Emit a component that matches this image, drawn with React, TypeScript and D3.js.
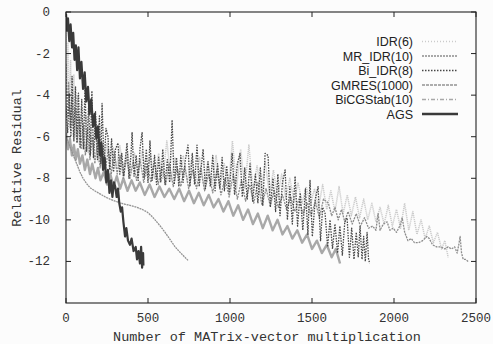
import React, { useRef, useEffect } from "react";
import * as d3 from "d3";

type Pt = [number, number];

// x-axis ticks, y-axis ticks
const xTicks = [0, 500, 1000, 1500, 2000, 2500];
const yTicks = [0, -2, -4, -6, -8, -10, -12];
const yTickLabels = ["0", "-2", "-4", "-6", "-8", "-10", "-12"];

const seriesNames = ["IDR(6)", "MR_IDR(10)", "Bi_IDR(8)", "GMRES(1000)", "BiCGStab(10)", "AGS"];

// values: [matvec count, log10 residual]
const idr6: Pt[] = [
  [0, -0.8], [6, -4.0], [12, -1.5], [20, -5.0], [28, -2.3], [38, -5.5], [48, -3.0], [58, -6.0], [70, -4.0], [82, -6.4],
  [95, -4.6], [108, -6.6], [122, -5.0], [136, -6.8], [150, -5.5], [166, -7.0], [182, -5.9], [198, -7.2], [215, -6.1], [232, -7.3],
  [250, -6.3], [268, -7.4], [288, -6.5], [308, -7.5], [328, -6.4], [350, -7.6], [372, -6.6], [395, -7.7], [418, -6.8], [440, -7.8],
  [465, -6.7], [490, -7.9], [515, -6.9], [540, -8.0], [565, -6.8], [590, -8.0], [615, -6.2], [640, -8.1], [665, -7.0], [690, -8.1],
  [715, -6.9], [740, -8.2], [765, -7.1], [790, -8.2], [815, -7.0], [840, -8.3], [865, -7.2], [890, -8.3], [915, -6.9], [940, -8.4],
  [965, -7.3], [990, -8.4], [1015, -6.2], [1040, -8.5], [1065, -6.6], [1090, -8.5], [1115, -6.4], [1140, -8.6], [1165, -7.4], [1190, -8.7],
  [1215, -7.2], [1240, -8.8], [1265, -7.6], [1290, -8.9], [1315, -7.8], [1340, -9.0], [1365, -8.0], [1390, -9.1], [1415, -8.2], [1440, -9.2],
  [1465, -8.4], [1490, -9.3], [1515, -8.5], [1540, -9.4], [1565, -8.3], [1590, -9.5], [1615, -8.6], [1640, -9.6], [1665, -8.4], [1690, -9.7],
  [1715, -8.8], [1740, -9.8], [1765, -8.9], [1790, -9.9], [1815, -9.0], [1840, -10.0], [1865, -9.2], [1890, -10.1], [1915, -9.4], [1940, -10.2],
  [1965, -9.3], [1990, -10.3], [2015, -9.5], [2040, -10.4], [2065, -9.2], [2090, -10.5], [2115, -9.6], [2140, -10.7], [2165, -10.0], [2190, -10.9],
  [2215, -10.3], [2240, -11.1], [2265, -10.6], [2290, -11.4], [2310, -11.0], [2330, -11.8],
];

const mrIdr10: Pt[] = [
  [0, -2.5], [8, -5.0], [16, -3.4], [26, -5.6], [36, -4.1], [46, -6.0], [56, -4.6], [68, -6.3], [80, -5.0], [92, -6.6],
  [104, -5.4], [118, -6.9], [132, -5.6], [146, -7.1], [160, -6.0], [176, -7.3], [192, -6.2], [208, -7.5], [224, -6.4], [240, -7.6],
  [258, -6.6], [276, -7.8], [294, -6.7], [312, -7.8], [330, -6.9], [350, -8.0], [370, -7.0], [390, -8.0], [410, -7.2], [430, -8.1],
  [452, -7.1], [474, -8.2], [496, -7.3], [518, -8.2], [540, -7.2], [562, -8.3], [585, -7.4], [608, -8.3], [630, -7.3], [654, -8.4],
  [678, -7.5], [700, -8.4], [724, -7.4], [748, -8.5], [772, -7.6], [796, -8.5], [820, -7.5], [845, -8.6], [870, -7.8], [895, -8.7],
  [920, -7.6], [945, -8.8], [970, -8.0], [995, -8.9], [1020, -7.8], [1045, -9.0], [1070, -8.1], [1095, -9.1], [1120, -8.3], [1145, -9.2],
  [1170, -8.2], [1195, -9.3], [1220, -8.5], [1245, -9.3], [1270, -8.6], [1295, -9.4], [1320, -8.8], [1345, -9.5], [1370, -8.9], [1395, -9.6],
  [1420, -9.0], [1445, -9.7], [1470, -9.2], [1495, -9.8], [1520, -9.1], [1545, -9.9], [1570, -9.0], [1600, -9.2], [1620, -9.8], [1640, -9.4],
  [1660, -10.0], [1680, -9.5], [1700, -10.1], [1720, -9.6], [1745, -10.2], [1770, -9.7], [1795, -10.3], [1820, -9.9], [1845, -10.4], [1870, -10.3],
  [1890, -10.5], [1903, -9.7], [1915, -10.5], [1935, -10.2], [1958, -10.1], [1975, -10.5], [1995, -10.4], [2015, -10.6], [2035, -10.3], [2050, -9.9],
  [2065, -10.6], [2085, -11.0], [2105, -10.9], [2125, -11.1], [2150, -11.1], [2175, -11.0], [2200, -10.8], [2215, -10.9], [2235, -11.2], [2260, -11.3],
  [2285, -11.3], [2310, -11.4], [2330, -11.3], [2350, -11.4], [2370, -11.3], [2385, -11.6], [2395, -11.2], [2403, -10.8], [2412, -11.6], [2422, -11.9],
  [2435, -11.9], [2452, -12.0],
];

const biIdr8: Pt[] = [
  [0, -4.5], [10, -5.8], [20, -3.9], [30, -6.0], [37, -3.1], [48, -6.2], [58, -3.6], [67, -6.3], [76, -3.9], [86, -6.5],
  [96, -4.2], [106, -6.6], [116, -3.6], [126, -6.7], [138, -4.5], [148, -6.9], [158, -3.8], [168, -7.0], [180, -4.8], [192, -7.1],
  [204, -5.0], [212, -7.3], [220, -4.4], [232, -7.4], [244, -5.6], [256, -6.0], [266, -7.6], [278, -6.1], [290, -7.7], [302, -6.6],
  [317, -6.3], [328, -7.8], [340, -6.8], [352, -7.9], [372, -6.3], [384, -8.0], [396, -6.9], [403, -5.8], [415, -7.9], [428, -6.9],
  [440, -8.1], [452, -6.5], [464, -5.8], [476, -8.0], [490, -6.6], [500, -8.2], [512, -6.2], [525, -8.1], [540, -6.9], [552, -8.3],
  [565, -7.0], [578, -8.2], [590, -6.6], [604, -8.3], [618, -7.1], [632, -8.2], [647, -5.2], [660, -8.3], [674, -7.0], [688, -8.4],
  [700, -6.9], [714, -8.2], [728, -7.1], [744, -6.4], [756, -8.4], [770, -6.8], [784, -8.3], [799, -6.4], [812, -8.4], [836, -6.6],
  [850, -8.5], [866, -7.2], [880, -8.4], [895, -6.9], [909, -8.6], [924, -7.3], [938, -8.5], [952, -7.0], [966, -8.6], [980, -7.4],
  [995, -8.7], [1013, -6.8], [1028, -8.8], [1045, -7.3], [1061, -6.8], [1075, -8.9], [1090, -7.5], [1105, -9.0], [1122, -7.3], [1138, -9.1],
  [1155, -7.8], [1170, -9.2], [1185, -7.5], [1200, -9.3], [1214, -6.8], [1232, -6.9], [1246, -9.4], [1262, -8.0], [1278, -9.6], [1292, -7.8],
  [1305, -9.8], [1320, -8.2], [1336, -7.6], [1350, -10.0], [1365, -8.4], [1380, -10.2], [1397, -7.9], [1412, -10.3], [1428, -8.7], [1444, -10.5],
  [1460, -8.5], [1475, -10.7], [1488, -8.1], [1502, -10.8], [1520, -9.0], [1537, -8.4], [1552, -11.0], [1565, -9.4], [1580, -9.7], [1595, -11.3],
  [1610, -10.0], [1625, -11.4], [1640, -10.2], [1656, -11.6], [1670, -10.3], [1685, -11.7], [1700, -10.1], [1714, -9.9], [1728, -11.8], [1742, -10.4],
  [1756, -11.9], [1770, -10.6], [1782, -11.8], [1793, -10.3], [1805, -11.9], [1815, -10.8], [1825, -12.0], [1836, -10.6], [1845, -11.9], [1852, -12.1],
];

const gmres1000: Pt[] = [
  [0, -6.0], [10, -6.2], [25, -6.5], [40, -6.8], [55, -7.1], [70, -7.4], [85, -7.7], [104, -8.0], [125, -8.25], [146, -8.45],
  [175, -8.6], [207, -8.75], [240, -8.9], [268, -9.0], [300, -9.1], [329, -9.18], [360, -9.25], [390, -9.3], [433, -9.4], [465, -9.5],
  [494, -9.62], [520, -9.8], [543, -10.0], [575, -10.3], [604, -10.6], [635, -10.95], [665, -11.3], [700, -11.6], [744, -11.95],
];

const bicgstab10: Pt[] = [
  [0, -5.8], [12, -6.6], [24, -6.1], [36, -6.9], [48, -6.4], [60, -7.1], [72, -6.6], [85, -7.3], [100, -6.9], [115, -7.6],
  [130, -7.1], [146, -7.8], [160, -7.3], [180, -8.0], [195, -7.5], [210, -8.1], [230, -7.7], [250, -8.3], [270, -7.8], [290, -8.4],
  [310, -7.9], [330, -8.5], [350, -8.0], [375, -8.6], [400, -8.1], [425, -8.6], [450, -8.2], [480, -8.8], [510, -8.3], [540, -8.9],
  [570, -8.4], [600, -8.9], [630, -8.5], [660, -9.0], [690, -8.5], [720, -9.1], [750, -8.6], [780, -9.2], [810, -8.7], [840, -9.3],
  [870, -8.8], [900, -9.4], [930, -9.0], [960, -9.6], [990, -9.1], [1020, -9.8], [1050, -9.3], [1080, -10.0], [1110, -9.5], [1140, -10.2],
  [1170, -9.7], [1200, -10.4], [1230, -9.8], [1260, -10.5], [1290, -10.0], [1320, -10.7], [1350, -10.3], [1380, -10.9], [1410, -10.5], [1440, -11.1],
  [1470, -10.7], [1500, -11.4], [1530, -11.0], [1560, -11.6], [1590, -11.2], [1620, -11.8], [1645, -11.4], [1671, -12.1],
];

const ags: Pt[] = [
  [0, -0.1], [6, -0.9], [12, -0.3], [20, -1.4], [28, -0.6], [37, -1.7], [44, -1.0], [52, -2.3], [60, -1.6], [68, -2.8],
  [76, -1.7], [85, -3.2], [94, -2.4], [104, -3.7], [114, -2.9], [124, -4.3], [134, -3.6], [144, -4.9], [154, -4.2], [165, -5.5],
  [175, -4.9], [185, -6.1], [195, -5.5], [207, -6.9], [216, -6.3], [226, -7.6], [236, -7.0], [246, -8.2], [256, -7.6], [265, -8.7],
  [274, -8.1], [283, -8.9], [292, -8.2], [300, -8.4], [309, -8.9], [317, -8.5], [325, -9.2], [334, -9.6], [342, -9.4], [350, -10.1],
  [360, -10.8], [368, -10.4], [378, -11.0], [390, -11.2], [400, -10.9], [412, -11.5], [425, -11.3], [433, -11.9], [442, -11.5], [451, -12.1],
  [458, -11.3], [464, -12.3], [470, -11.6], [472, -12.2],
];

const styles = [
  { data: idr6, stroke: "#cbcbcb", width: 1.5, dash: "1.2,0.8", legendDash: "1,2" },
  { data: mrIdr10, stroke: "#8c8c8c", width: 1.3, dash: "2,1", legendDash: "2,1" },
  { data: biIdr8, stroke: "#464646", width: 1.3, dash: "1.5,1.2", legendDash: "1.5,1.5" },
  { data: gmres1000, stroke: "#929292", width: 1.3, dash: "2,0.7", legendDash: "3,1" },
  { data: bicgstab10, stroke: "#a8a8a8", width: 2.4, dash: "", legendDash: "4,2,1,2" },
  { data: ags, stroke: "#3a3a3a", width: 2.2, dash: "", legendDash: "" },
];
// drawing order (back to front)
const drawOrder = [0, 4, 1, 2, 3, 5];

export default function App() {
  const svgRef = useRef<SVGSVGElement>(null);

  useEffect(() => {
    const svg = d3.select(svgRef.current);
    svg.selectAll("*").remove();

    const left = 66, right = 476, top = 12, bottom = 303;
    const x = d3.scaleLinear().domain([0, 2500]).range([left, right]);
    const y = d3.scaleLinear().domain([-14, 0]).range([bottom, top]);

    svg.append("defs").append("clipPath").attr("id", "plotclip")
      .append("rect").attr("x", left).attr("y", top).attr("width", right - left).attr("height", bottom - top);

    const line = d3.line<Pt>().x(d => x(d[0])).y(d => y(d[1]));

    const g = svg.append("g").attr("clip-path", "url(#plotclip)");
    drawOrder.forEach(i => {
      const s = styles[i];
      g.append("path")
        .attr("d", line(s.data))
        .attr("fill", "none")
        .attr("stroke", s.stroke)
        .attr("stroke-width", s.width)
        .attr("stroke-dasharray", s.dash || null)
        .attr("stroke-linejoin", "round");
    });

    // frame
    svg.append("rect")
      .attr("x", left).attr("y", top).attr("width", right - left).attr("height", bottom - top)
      .attr("fill", "none").attr("stroke", "#222").attr("stroke-width", 1.1);

    // ticks (inward, mirrored)
    const tk = 5;
    xTicks.forEach(v => {
      svg.append("line").attr("x1", x(v)).attr("x2", x(v)).attr("y1", bottom).attr("y2", bottom - tk).attr("stroke", "#222");
      svg.append("line").attr("x1", x(v)).attr("x2", x(v)).attr("y1", top).attr("y2", top + tk).attr("stroke", "#222");
      svg.append("text")
        .attr("x", x(v)).attr("y", 322)
        .attr("text-anchor", "middle")
        .attr("font-family", "Liberation Mono, monospace")
        .attr("font-size", 12.5).attr("fill", "#333")
        .text(v);
    });
    yTicks.forEach((v, i) => {
      svg.append("line").attr("x1", left).attr("x2", left + tk).attr("y1", y(v)).attr("y2", y(v)).attr("stroke", "#222");
      svg.append("line").attr("x1", right).attr("x2", right - tk).attr("y1", y(v)).attr("y2", y(v)).attr("stroke", "#222");
      svg.append("text")
        .attr("x", 50).attr("y", y(v) + 4)
        .attr("text-anchor", "end")
        .attr("font-family", "Liberation Mono, monospace")
        .attr("font-size", 12.5).attr("fill", "#333")
        .text(yTickLabels[i]);
    });

    svg.append("text")
      .attr("x", (left + right) / 2 - 4).attr("y", 341)
      .attr("text-anchor", "middle")
      .attr("font-family", "Liberation Mono, monospace")
      .attr("font-size", 13.5).attr("fill", "#333")
      .text("Number of MATrix-vector multiplication");

    svg.append("text")
      .attr("transform", `translate(21, ${158}) rotate(-90)`)
      .attr("text-anchor", "middle")
      .attr("font-family", "Liberation Mono, monospace")
      .attr("font-size", 13.5).attr("fill", "#333")
      .text("Relative Residual");

    // legend
    seriesNames.forEach((name, i) => {
      const by = 46 + i * 14.5;
      const s = styles[i];
      svg.append("text")
        .attr("x", 413).attr("y", by)
        .attr("text-anchor", "end")
        .attr("font-family", "Liberation Sans, Arial, sans-serif")
        .attr("font-size", 12.5).attr("fill", "#222")
        .text(name);
      svg.append("line")
        .attr("x1", 422).attr("x2", 458).attr("y1", by - 4.5).attr("y2", by - 4.5)
        .attr("stroke", s.stroke)
        .attr("stroke-width", i === 5 ? 2.4 : 1.3)
        .attr("stroke-dasharray", s.legendDash || null);
    });
  }, []);

  return (
    <div style={{ position: "absolute", left: 0, top: 0 }}>
      <svg ref={svgRef} width={493} height={344} style={{ display: "block", background: "#fcfcfc" }} />
    </div>
  );
}
